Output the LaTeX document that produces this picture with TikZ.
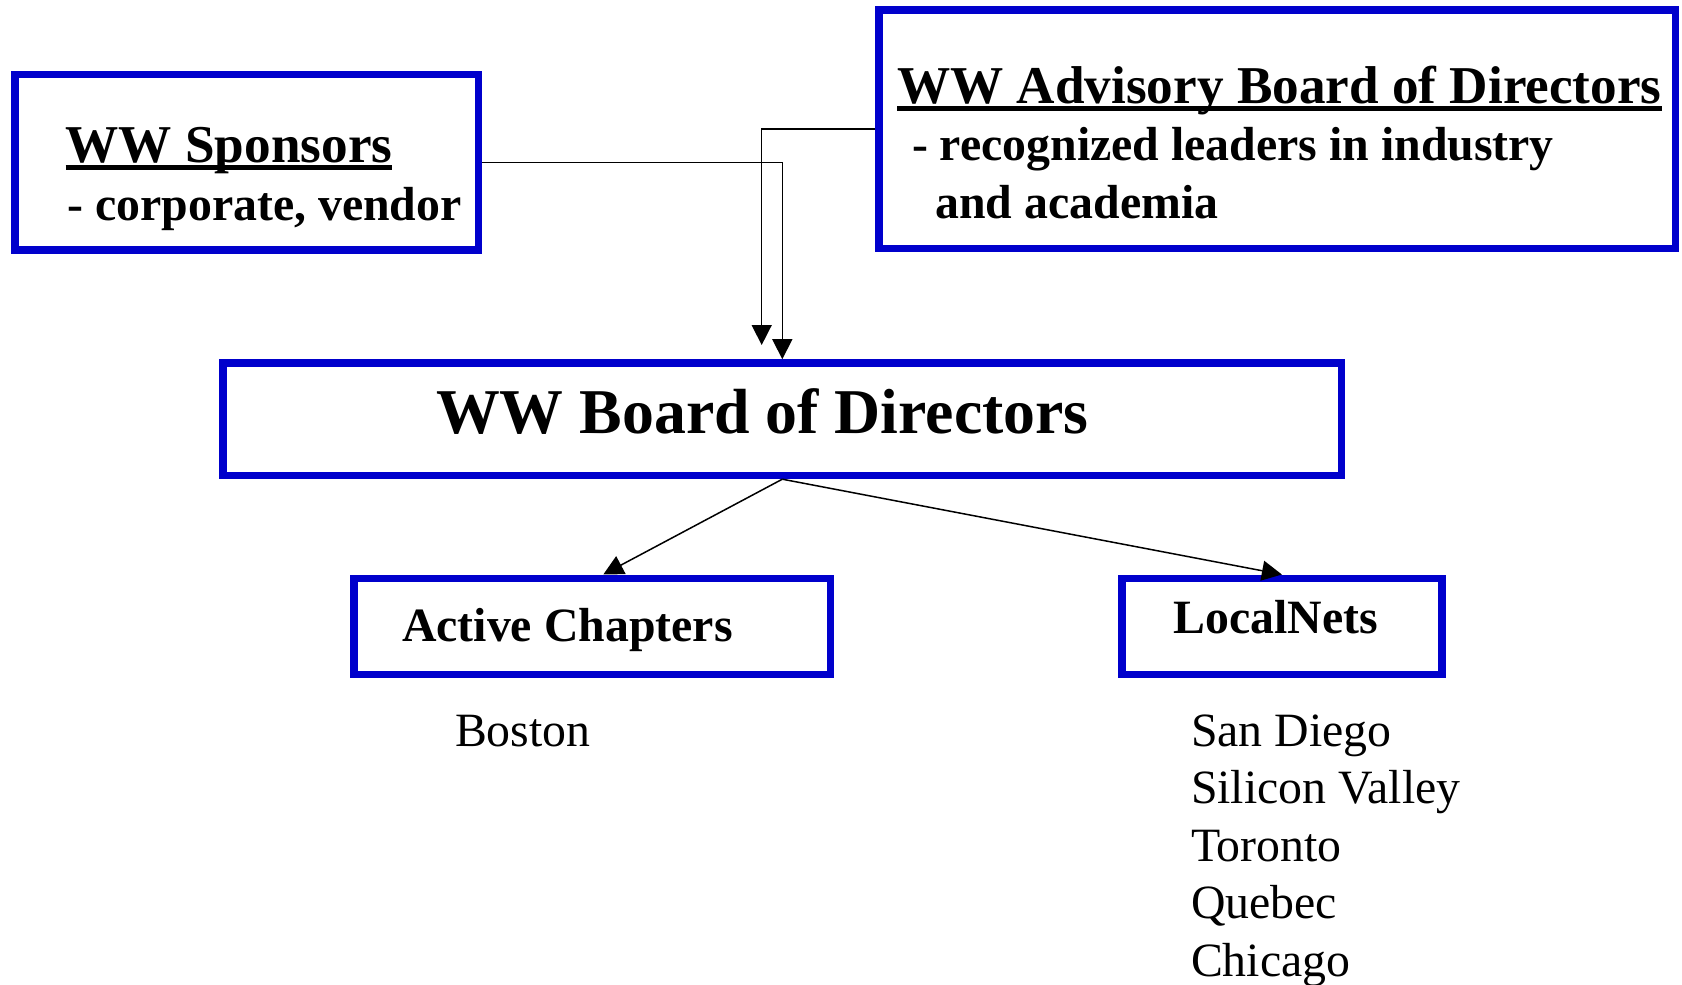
\documentclass[tikz,border=0pt]{standalone}
\usepackage{fontspec}
\setmainfont{Liberation Serif}
\usetikzlibrary{arrows.meta}
\definecolor{boxblue}{RGB}{0,0,204}
\newcommand{\headul}[1]{\setbox0\hbox{#1}\rlap{\rule[-3.7pt]{\wd0}{2.4pt}}\box0}

\begin{document}
\begin{tikzpicture}[x=0.5pt,y=-0.5pt,
    orgbox/.style={draw=boxblue,line width=3.8pt,inner sep=0pt},
    lbl/.style={anchor=base west,inner sep=0pt,font=\fontsize{23.9}{28}\bfseries},
    hd/.style={lbl,font=\fontsize{26.6}{30}\bfseries},
    city/.style={anchor=base west,inner sep=0pt,font=\fontsize{23.9}{28}\selectfont},
    link/.style={line width=0.75pt,-{Triangle[length=10pt,width=10pt]}}]
       \useasboundingbox (0,0) rectangle (1682,985);
       % boxes
       \node[orgbox,minimum width=231.8pt,minimum height=87.75pt] (spon) at (246.5,162.3) {};
       \node[orgbox,minimum width=398.4pt,minimum height=119.4pt] (adv) at (1277.2,129.2) {};
       \node[orgbox,minimum width=559.3pt,minimum height=56.2pt] (board) at (782.3,419.2) {};
       \node[orgbox,minimum width=238.3pt,minimum height=48pt] (act) at (592.3,626.3) {};
       \node[orgbox,minimum width=159.9pt,minimum height=48pt] (loc) at (1281.9,626.3) {};
       % texts
       \node[hd] (spontitle) at (65.3,162.7) {\headul{WW Sponsors}};
       \node[lbl] (spontext) at (67,220.7) {- corporate, vendor};
       \node[hd] (advtitle) at (896.7,103.3) {\headul{WW Advisory Board of Directors}};
       \node[lbl] (advtext) at (911.7,160) {- recognized leaders in industry};
       \node[lbl] (advtextb) at (935,218.3) {and academia};
       \node[anchor=base west,inner sep=0pt,font=\fontsize{31.9}{36}\bfseries] (boardtitle)
         at (435.7,433) {WW Board of Directors};
       \node[lbl] (acttitle) at (401.7,641.7) {Active Chapters};
       \node[lbl] (loctitle) at (1173.2,633.5) {LocalNets};
       \node[city] (boston) at (454.7,746) {Boston};
       \foreach \name [count=\i] in {San Diego,Silicon Valley,Toronto,Quebec,Chicago}
         \node[city] (city\i) at (1190.6,{746+57.5*(\i-1)}) {\name};
       % connectors
       \coordinate (advtip) at (761.7,345);
       \draw[link] (spon.east) -| (board.north);
       \draw[link] (adv.west) -| (advtip);
       \draw[link] (board.south) -- ([xshift=5.5pt]act.north);
       \draw[link] (board.south) -- (loc.north);
      \end{tikzpicture}
\end{document}
